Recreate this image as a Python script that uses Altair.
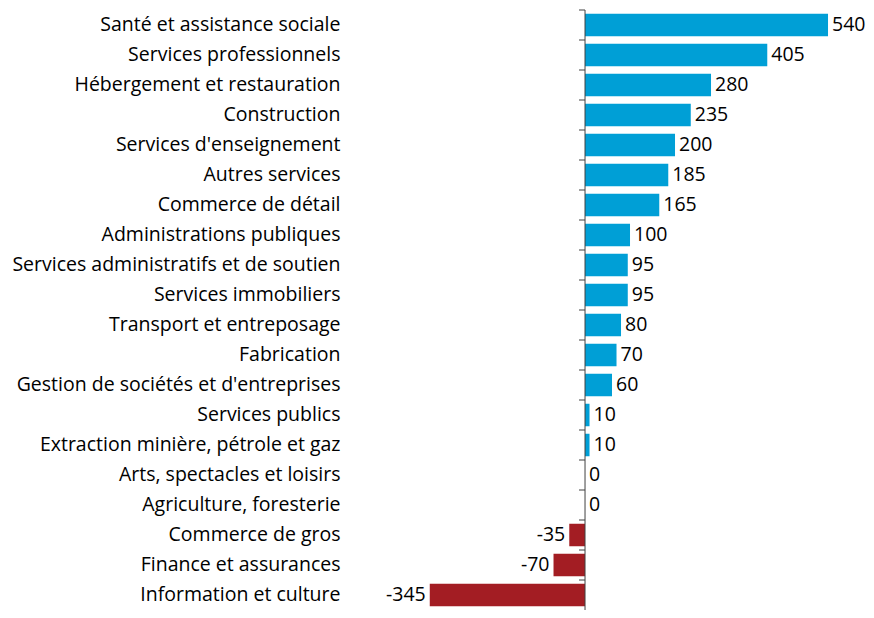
import altair as alt
import pandas as pd

categories = [
    "Santé et assistance sociale",
    "Services professionnels",
    "Hébergement et restauration",
    "Construction",
    "Services d'enseignement",
    "Autres services",
    "Commerce de détail",
    "Administrations publiques",
    "Services administratifs et de soutien",
    "Services immobiliers",
    "Transport et entreposage",
    "Fabrication",
    "Gestion de sociétés et d'entreprises",
    "Services publics",
    "Extraction minière, pétrole et gaz",
    "Arts, spectacles et loisirs",
    "Agriculture, foresterie",
    "Commerce de gros",
    "Finance et assurances",
    "Information et culture",
]
values = [540, 405, 280, 235, 200, 185, 165, 100, 95, 95, 80, 70, 60, 10, 10, 0, 0, -35, -70, -345]

df = pd.DataFrame({"cat": categories, "val": values})
df["label"] = df["val"].astype(str)
df["sign"] = ["neg" if v < 0 else "pos" for v in values]
df["zero"] = 0

FONT = "Open Sans, Carlito, Calibri, sans-serif"
FS = 19.5
BLUE = "#009FD6"
RED = "#A31D23"

yscale = alt.Scale(paddingInner=0.25, paddingOuter=0.125)
xscale = alt.Scale(domain=[-526.7, 624.4], nice=False, zero=False)

y_axis = alt.Axis(domain=False, ticks=False, labelFont=FONT, labelFontSize=FS,
                  labelColor="#000000", labelPadding=8, labelLimit=400)
y_main = alt.Y("cat:N", sort=categories, title=None, scale=yscale, axis=y_axis)
x_main = alt.X("val:Q", scale=xscale, axis=None)

base = alt.Chart(df)

bars = base.mark_bar().encode(
    x=x_main,
    x2="zero:Q",
    y=y_main,
    color=alt.Color("sign:N", scale=alt.Scale(domain=["pos", "neg"], range=[BLUE, RED]), legend=None),
)

text_pos = base.transform_filter(alt.datum.val >= 0).mark_text(
    align="left", baseline="middle", dx=4, font=FONT, fontSize=FS, color="#000000"
).encode(x=x_main, y=y_main, text="label:N")

text_neg = base.transform_filter(alt.datum.val < 0).mark_text(
    align="right", baseline="middle", dx=-4, font=FONT, fontSize=FS, color="#000000"
).encode(x=x_main, y=y_main, text="label:N")

zero_line = alt.Chart(pd.DataFrame({"z": [0]})).mark_rule(color="#404040", strokeWidth=1).encode(
    x=alt.X("z:Q", scale=xscale, axis=None)
)

ticks = base.mark_rule(color="#404040", strokeWidth=1, xOffset=-6, x2Offset=0,
                       yOffset=-3.75, y2Offset=-3.75).encode(
    x=alt.X("zero:Q", scale=xscale, axis=None),
    x2="zero:Q",
    y=alt.Y("cat:N", sort=categories, title=None, scale=yscale, bandPosition=0, axis=y_axis),
)

chart = alt.layer(bars, zero_line, ticks, text_pos, text_neg).properties(
    width=518,
    height=600,
    autosize=alt.AutoSizeParams(type="none"),
    padding={"left": 340, "top": 2, "right": 0, "bottom": 0},
).configure_view(stroke=None)

chart.save("out.html", embed_options={"renderer": "svg", "actions": False})
